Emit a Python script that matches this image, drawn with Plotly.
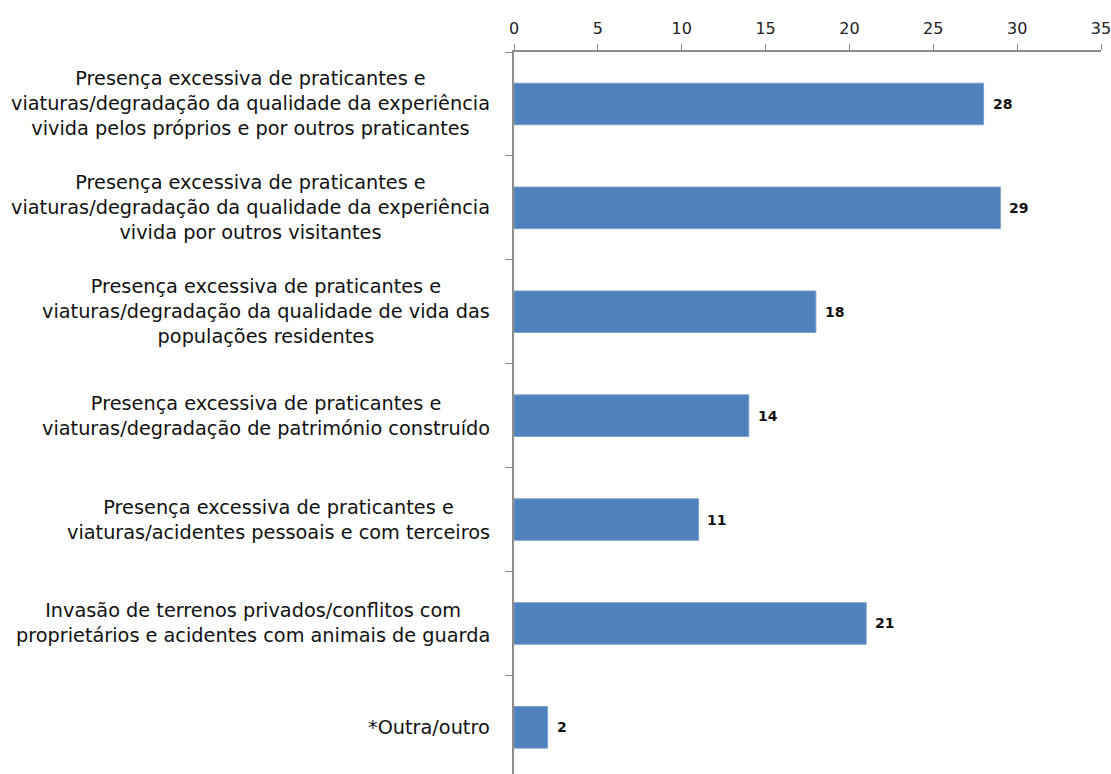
import plotly.graph_objects as go

categories = [
    "Presença excessiva de praticantes e<br>viaturas/degradação da qualidade da experiência<br>vivida pelos próprios e por outros praticantes",
    "Presença excessiva de praticantes e<br>viaturas/degradação da qualidade da experiência<br>vivida por outros visitantes",
    "Presença excessiva de praticantes e<br>viaturas/degradação da qualidade de vida das<br>populações residentes",
    "Presença excessiva de praticantes e<br>viaturas/degradação de património construído",
    "Presença excessiva de praticantes e<br>viaturas/acidentes pessoais e com terceiros",
    "Invasão de terrenos privados/conflitos com<br>proprietários e acidentes com animais de guarda",
    "*Outra/outro",
]
values = [28, 29, 18, 14, 11, 21, 2]
x_ticks = [0, 5, 10, 15, 20, 25, 30, 35]

FONT = "DejaVu Sans"

fig = go.Figure(go.Bar(
    x=values, y=categories, orientation="h",
    marker=dict(color="#4F81BD", line=dict(color="#7BA0CD", width=1)),
    width=0.40,
))

annotations = []
for c, v in zip(categories, values):
    annotations.append(dict(
        x=0, y=c, xref="paper", yref="y", text=c, showarrow=False,
        xanchor="right", align="center", xshift=-22,
        font=dict(family=FONT, size=19.3, color="#111111"),
    ))
    annotations.append(dict(
        x=v, y=c, xref="x", yref="y", text=f"<b>{v}</b>", showarrow=False,
        xanchor="left", xshift=7,
        font=dict(family=FONT, size=14, color="#111111"),
    ))

fig.update_layout(
    width=1111, height=774,
    margin=dict(l=514, r=10, t=52, b=0, autoexpand=False),
    plot_bgcolor="white", paper_bgcolor="white",
    showlegend=False,
    annotations=annotations,
    xaxis=dict(
        side="top", range=[0, 35], tickvals=x_ticks, ticktext=[str(t) for t in x_ticks],
        showgrid=False, zeroline=False, showline=True, linecolor="#8c8c8c", linewidth=1.5,
        ticks="outside", ticklen=6, tickcolor="#8c8c8c", automargin=False,
        ticklabelstandoff=4, ticklabeloverflow="allow",
        tickfont=dict(family=FONT, size=16, color="#222222"),
    ),
    yaxis=dict(
        range=[6.449, -0.5], showticklabels=False, showgrid=False,
        showline=True, linecolor="#8c8c8c", linewidth=1.5, automargin=False,
        ticks="outside", ticklen=7, tickcolor="#8c8c8c", tickson="boundaries",
    ),
)

fig.write_html(
    "out.html",
    config={"displayModeBar": False},
    post_script="document.body.style.margin='0';document.body.style.overflow='hidden';",
)
